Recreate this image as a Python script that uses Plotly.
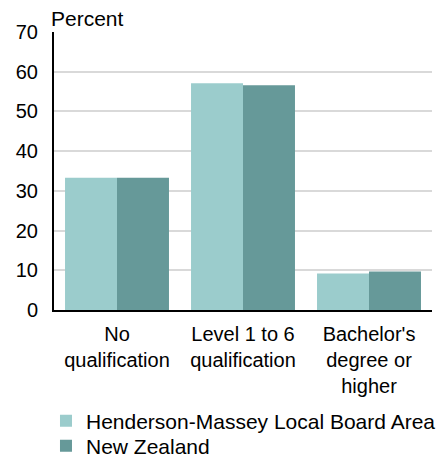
import plotly.graph_objects as go

categories = ["No<br>qualification", "Level 1 to 6<br>qualification", "Bachelor's<br>degree or<br>higher"]
series_names = ["Henderson-Massey Local Board Area", "New Zealand"]
henderson = [33.3, 57.1, 9.2]
new_zealand = [33.3, 56.6, 9.7]
y_ticks = [0, 10, 20, 30, 40, 50, 60, 70]
colors = ["#9BCCCC", "#669999"]

FONT = "Liberation Sans, Arial, sans-serif"

fig = go.Figure()
legend_ids = ["legend", "legend2"]
for name, vals, col, lg in zip(series_names, [henderson, new_zealand], colors, legend_ids):
    fig.add_trace(go.Bar(x=categories, y=vals, name=name, legend=lg,
                         marker=dict(color=col, line=dict(width=0))))

leg_common = dict(orientation="v", x=-0.0212, xanchor="left", yanchor="top",
                  font=dict(size=21, family=FONT), itemwidth=30, tracegroupgap=0,
                  bgcolor="rgba(0,0,0,0)")

# the page body adds an 8px margin, so the figure is 8px smaller than the window
fig.update_layout(
    width=436, height=453,
    margin=dict(l=46, r=12, t=24, b=151, autoexpand=False),
    paper_bgcolor="white", plot_bgcolor="white",
    font=dict(family=FONT, size=20, color="#000000"),
    barmode="group", bargap=0.175, bargroupgap=0,
    showlegend=True,
    legend=dict(y=-0.3261, **leg_common),
    legend2=dict(y=-0.4160, **leg_common),
    annotations=[dict(text="Percent", xref="paper", yref="paper", x=0, y=1,
                      xanchor="left", yanchor="bottom", xshift=-5, yshift=0,
                      showarrow=False, font=dict(size=21))],
)
fig.update_yaxes(range=[0, 70], tickvals=y_ticks, showgrid=True, gridcolor="#D9D9D9", gridwidth=2,
                 showline=True, linecolor="#000000", linewidth=2, zeroline=False,
                 ticks="", ticklabelstandoff=10, fixedrange=True, automargin=False)
fig.update_xaxes(showline=True, linecolor="#000000", linewidth=2, ticks="", ticklabelstandoff=5,
                 fixedrange=True, automargin=False)

fig.write_html("out.html")
